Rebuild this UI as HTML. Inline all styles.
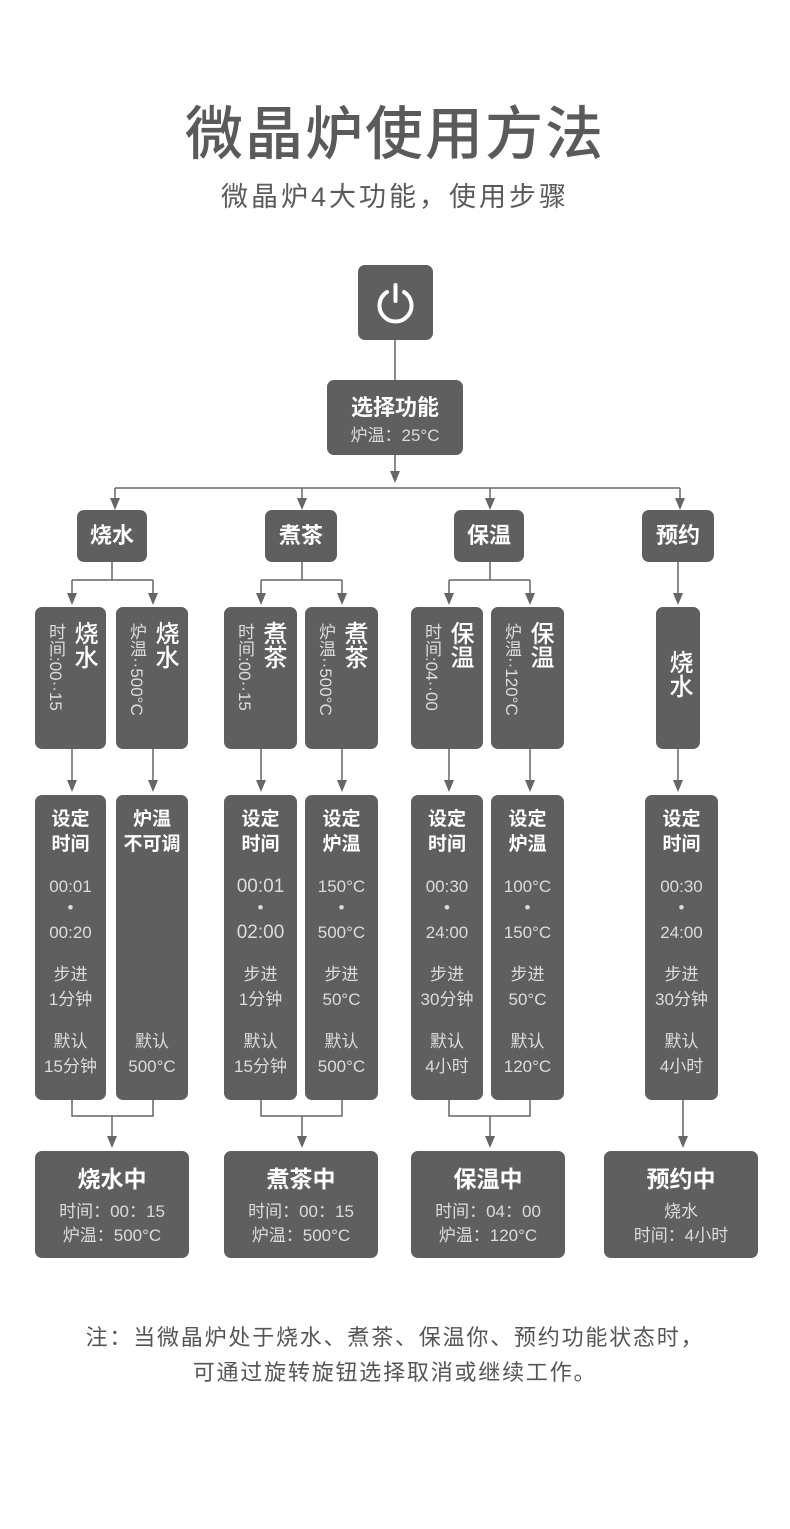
<!DOCTYPE html>
<html><head><meta charset="utf-8">
<style>
body{margin:0;background:#fff;}
#c{position:relative;width:790px;height:1529px;overflow:hidden;font-family:"Liberation Sans","Noto Sans CJK SC",sans-serif;color:#5a5a5a;}
.b{position:absolute;background:#5f5f5f;border-radius:7px;color:#fff;}
.t{position:absolute;left:0;right:0;text-align:center;white-space:nowrap;line-height:24px;}
.h{font-size:19px;font-weight:bold;color:#fff;}
.s{font-size:17px;color:#dcdcdc;}
.v{position:absolute;writing-mode:vertical-rl;text-orientation:mixed;white-space:nowrap;}
.vb{left:35px;top:14px;font-size:24px;font-weight:500;line-height:26px;}
.vs{left:10px;top:16px;font-size:17px;color:#dcdcdc;line-height:20px;}
</style></head><body><div id="c">
<div class="t" style="top:100px;font-size:58px;line-height:70px;font-weight:500;color:#5a5a5a;letter-spacing:2px">微晶炉使用方法</div>
<div class="t" style="top:178px;font-size:27px;line-height:38px;color:#5a5a5a;letter-spacing:3px">微晶炉4大功能，使用步骤</div>

<svg style="position:absolute;left:0;top:0" width="790" height="1529">
<g stroke="#666" stroke-width="1.5" fill="none">
<path d="M395 340V380M395 455V480M115 488H680M115 488V503M302 488V503M490 488V503M680 488V503"/>
<path d="M112 562V580M72 580H153M72 580V598M153 580V598"/>
<path d="M302 562V580M261 580H342M261 580V598M342 580V598"/>
<path d="M490 562V580M449 580H530M449 580V598M530 580V598"/>
<path d="M678 562V598"/>
<path d="M72 749V785M153 749V785M261 749V785M342 749V785M449 749V785M530 749V785M678 749V785"/>
<path d="M72 1100V1116H153V1100M112 1116V1141M261 1100V1116H342V1100M302 1116V1141M449 1100V1116H530V1100M490 1116V1141M683 1100V1141"/>
</g>
<g fill="#666">
<path d="M390 471h10l-5 12z"/>
<path d="M110 498h10l-5 12z"/><path d="M297 498h10l-5 12z"/><path d="M485 498h10l-5 12z"/><path d="M675 498h10l-5 12z"/>
<path d="M67 593h10l-5 12z"/><path d="M148 593h10l-5 12z"/><path d="M256 593h10l-5 12z"/><path d="M337 593h10l-5 12z"/><path d="M444 593h10l-5 12z"/><path d="M525 593h10l-5 12z"/><path d="M673 593h10l-5 12z"/>
<path d="M67 780h10l-5 12z"/><path d="M148 780h10l-5 12z"/><path d="M256 780h10l-5 12z"/><path d="M337 780h10l-5 12z"/><path d="M444 780h10l-5 12z"/><path d="M525 780h10l-5 12z"/><path d="M673 780h10l-5 12z"/>
<path d="M107 1136h10l-5 12z"/><path d="M297 1136h10l-5 12z"/><path d="M485 1136h10l-5 12z"/><path d="M678 1136h10l-5 12z"/>
</g>
</svg>

<div class="b" style="left:358px;top:265px;width:75px;height:75px">
<svg width="75" height="75"><g stroke="#fff" stroke-width="4" fill="none" stroke-linecap="round"><path d="M29 27A16 16 0 1 0 46 27"/><path d="M37.5 20V36"/></g></svg></div>
<div class="b" style="left:327px;top:380px;width:136px;height:75px">
<div class="t h" style="top:14px;font-size:22px;line-height:28px">选择功能</div>
<div class="t s" style="top:44px">炉温：25°C</div></div>

<div class="b" style="left:77px;top:510px;width:70px;height:52px"><div class="t h" style="top:13px;font-size:22px;line-height:26px">烧水</div></div>
<div class="b" style="left:265px;top:510px;width:72px;height:52px"><div class="t h" style="top:13px;font-size:22px;line-height:26px">煮茶</div></div>
<div class="b" style="left:454px;top:510px;width:70px;height:52px"><div class="t h" style="top:13px;font-size:22px;line-height:26px">保温</div></div>
<div class="b" style="left:642px;top:510px;width:72px;height:52px"><div class="t h" style="top:13px;font-size:22px;line-height:26px">预约</div></div>

<!-- vertical boxes -->
<div class="b" style="left:35px;top:607px;width:71px;height:142px"><div class="v vb">烧水</div><div class="v vs">时间:00··15</div></div>
<div class="b" style="left:116px;top:607px;width:72px;height:142px"><div class="v vb">烧水</div><div class="v vs">炉温··500°C</div></div>
<div class="b" style="left:224px;top:607px;width:73px;height:142px"><div class="v vb">煮茶</div><div class="v vs">时间:00··15</div></div>
<div class="b" style="left:305px;top:607px;width:73px;height:142px"><div class="v vb">煮茶</div><div class="v vs">炉温··500°C</div></div>
<div class="b" style="left:411px;top:607px;width:72px;height:142px"><div class="v vb">保温</div><div class="v vs">时间:04··00</div></div>
<div class="b" style="left:491px;top:607px;width:73px;height:142px"><div class="v vb">保温</div><div class="v vs">炉温··120°C</div></div>
<div class="b" style="left:656px;top:607px;width:44px;height:142px"><div class="v vb" style="left:9px;top:43px">烧水</div></div>

<!-- detail boxes -->
<div class="b" style="left:35px;top:795px;width:71px;height:305px">
<div class="t h" style="top:13px">设定</div><div class="t h" style="top:38px">时间</div>
<div class="t s" style="top:80px">00:01</div><div class="t s" style="top:101px">•</div><div class="t s" style="top:126px">00:20</div>
<div class="t s" style="top:168px">步进</div><div class="t s" style="top:193px">1分钟</div>
<div class="t s" style="top:235px">默认</div><div class="t s" style="top:260px">15分钟</div></div>
<div class="b" style="left:116px;top:795px;width:72px;height:305px">
<div class="t h" style="top:13px">炉温</div><div class="t h" style="top:38px">不可调</div>
<div class="t s" style="top:235px">默认</div><div class="t s" style="top:260px">500°C</div></div>
<div class="b" style="left:224px;top:795px;width:73px;height:305px">
<div class="t h" style="top:13px">设定</div><div class="t h" style="top:38px">时间</div>
<div class="t s" style="top:80px;font-size:19px">00:01</div><div class="t s" style="top:101px">•</div><div class="t s" style="top:126px;font-size:19px">02:00</div>
<div class="t s" style="top:168px">步进</div><div class="t s" style="top:193px">1分钟</div>
<div class="t s" style="top:235px">默认</div><div class="t s" style="top:260px">15分钟</div></div>
<div class="b" style="left:305px;top:795px;width:73px;height:305px">
<div class="t h" style="top:13px">设定</div><div class="t h" style="top:38px">炉温</div>
<div class="t s" style="top:80px">150°C</div><div class="t s" style="top:101px">•</div><div class="t s" style="top:126px">500°C</div>
<div class="t s" style="top:168px">步进</div><div class="t s" style="top:193px">50°C</div>
<div class="t s" style="top:235px">默认</div><div class="t s" style="top:260px">500°C</div></div>
<div class="b" style="left:411px;top:795px;width:72px;height:305px">
<div class="t h" style="top:13px">设定</div><div class="t h" style="top:38px">时间</div>
<div class="t s" style="top:80px">00:30</div><div class="t s" style="top:101px">•</div><div class="t s" style="top:126px">24:00</div>
<div class="t s" style="top:168px">步进</div><div class="t s" style="top:193px">30分钟</div>
<div class="t s" style="top:235px">默认</div><div class="t s" style="top:260px">4小时</div></div>
<div class="b" style="left:491px;top:795px;width:73px;height:305px">
<div class="t h" style="top:13px">设定</div><div class="t h" style="top:38px">炉温</div>
<div class="t s" style="top:80px">100°C</div><div class="t s" style="top:101px">•</div><div class="t s" style="top:126px">150°C</div>
<div class="t s" style="top:168px">步进</div><div class="t s" style="top:193px">50°C</div>
<div class="t s" style="top:235px">默认</div><div class="t s" style="top:260px">120°C</div></div>
<div class="b" style="left:645px;top:795px;width:73px;height:305px">
<div class="t h" style="top:13px">设定</div><div class="t h" style="top:38px">时间</div>
<div class="t s" style="top:80px">00:30</div><div class="t s" style="top:101px">•</div><div class="t s" style="top:126px">24:00</div>
<div class="t s" style="top:168px">步进</div><div class="t s" style="top:193px">30分钟</div>
<div class="t s" style="top:235px">默认</div><div class="t s" style="top:260px">4小时</div></div>

<!-- final boxes -->
<div class="b" style="left:35px;top:1151px;width:154px;height:107px">
<div class="t h" style="top:13px;font-size:23px;line-height:30px">烧水中</div>
<div class="t s" style="top:49px">时间：00：15</div><div class="t s" style="top:73px">炉温：500°C</div></div>
<div class="b" style="left:224px;top:1151px;width:154px;height:107px">
<div class="t h" style="top:13px;font-size:23px;line-height:30px">煮茶中</div>
<div class="t s" style="top:49px">时间：00：15</div><div class="t s" style="top:73px">炉温：500°C</div></div>
<div class="b" style="left:411px;top:1151px;width:154px;height:107px">
<div class="t h" style="top:13px;font-size:23px;line-height:30px">保温中</div>
<div class="t s" style="top:49px">时间：04：00</div><div class="t s" style="top:73px">炉温：120°C</div></div>
<div class="b" style="left:604px;top:1151px;width:154px;height:107px">
<div class="t h" style="top:13px;font-size:23px;line-height:30px">预约中</div>
<div class="t s" style="top:49px">烧水</div><div class="t s" style="top:73px">时间：4小时</div></div>

<div class="t" style="top:1323px;font-size:22px;line-height:30px;color:#555;letter-spacing:1.8px">注：当微晶炉处于烧水、煮茶、保温你、预约功能状态时，</div>
<div class="t" style="top:1358px;font-size:22px;line-height:30px;color:#555;letter-spacing:1.8px">可通过旋转旋钮选择取消或继续工作。</div>
</div></body></html>
